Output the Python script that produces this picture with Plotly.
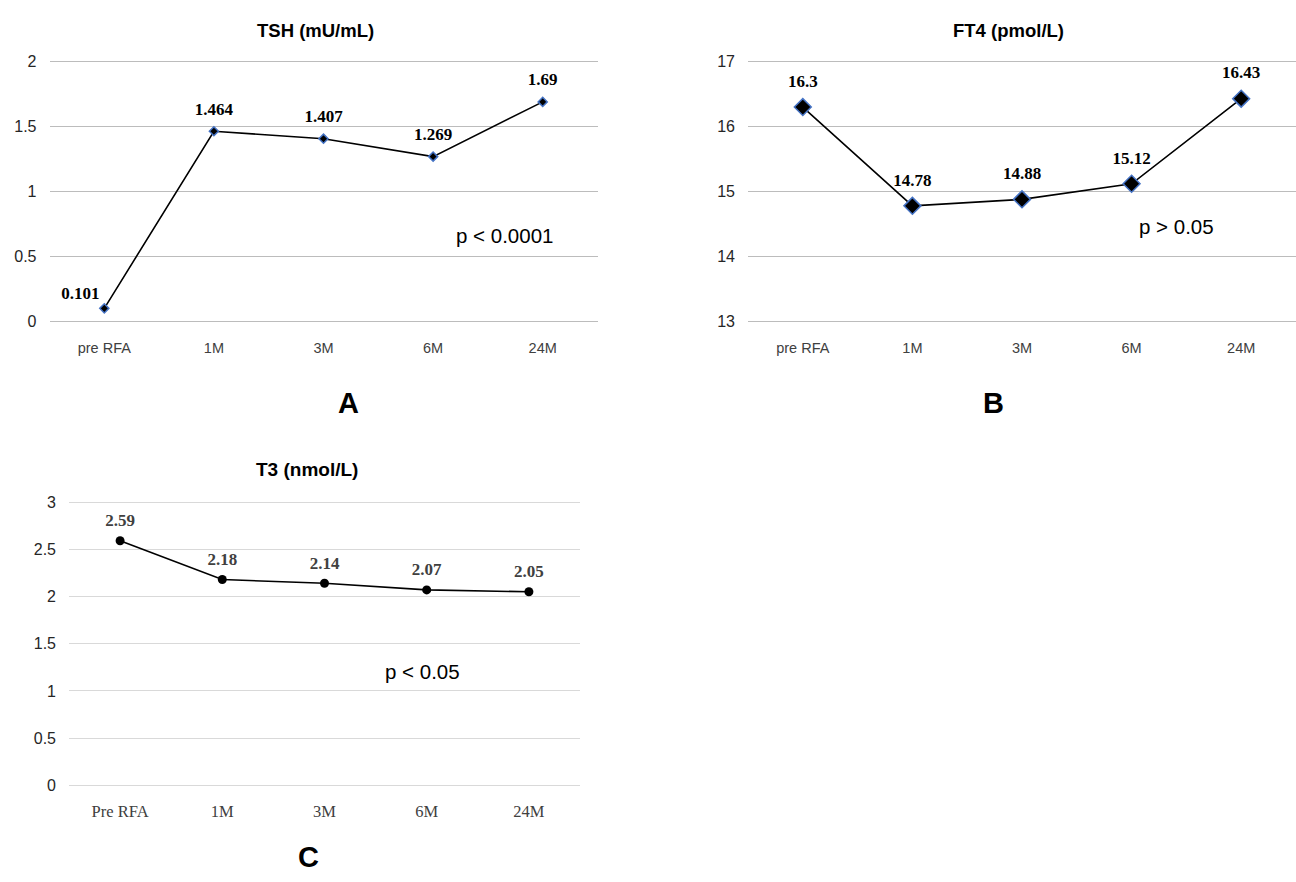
import plotly.graph_objects as go

cats_ab = ["pre RFA", "1M", "3M", "6M", "24M"]
cats_c = ["Pre RFA", "1M", "3M", "6M", "24M"]
tsh = [0.101, 1.464, 1.407, 1.269, 1.69]
ft4 = [16.3, 14.78, 14.88, 15.12, 16.43]
t3 = [2.59, 2.18, 2.14, 2.07, 2.05]
tsh_labels = ["0.101", "1.464", "1.407", "1.269", "1.69"]
ft4_labels = ["16.3", "14.78", "14.88", "15.12", "16.43"]
t3_labels = ["2.59", "2.18", "2.14", "2.07", "2.05"]

W, H = 1296, 882
def px(x0, x1):
    return [x0 / W, min(1.0, x1 / W)]
def py(y_bottom, y_top):
    return [1 - y_bottom / H, 1 - y_top / H]

fig = go.Figure()
serif = "Liberation Serif"
sans = "Liberation Sans"
CLEAR = "rgba(0,0,0,0)"

def series(xs, ys, labels, ax, ay, marker, label_color, label_pos, label_pad):
    fig.add_trace(go.Scatter(
        x=xs, y=ys, mode="lines+markers", line=dict(color="black", width=1.6),
        marker=marker, xaxis=ax, yaxis=ay, showlegend=False, hoverinfo="skip", cliponaxis=False))
    fig.add_trace(go.Scatter(
        x=xs, y=ys, mode="markers+text", text=labels, textposition=label_pos,
        textfont=dict(family=serif, size=17, color=label_color, weight="bold"),
        marker=dict(size=label_pad, color=CLEAR, line=dict(width=0)),
        xaxis=ax, yaxis=ay, showlegend=False, hoverinfo="skip", cliponaxis=False))

series(cats_ab, tsh, tsh_labels, "x", "y",
       dict(symbol="diamond", size=7, color="black", line=dict(color="#4472c4", width=1.5)),
       "black", ["top left", "top center", "top center", "top center", "top center"],
       [6, 18, 18, 18, 18])
series(cats_ab, ft4, ft4_labels, "x2", "y2",
       dict(symbol="diamond", size=13, color="black", line=dict(color="#4472c4", width=1.5)),
       "black", "top center", 24)
series(cats_c, t3, t3_labels, "x3", "y3",
       dict(symbol="circle", size=9, color="black"),
       "#404040", "top center", 15)

xcommon = dict(type="category", range=[-0.5, 4.5], showgrid=False, zeroline=False,
               showline=False, ticks="", fixedrange=True)
ycommon = dict(showgrid=True, gridwidth=1, zeroline=False, showline=False, ticks="",
               ticklabelstandoff=12,
               tickfont=dict(family=sans, size=16, color="#262626"), fixedrange=True)

def yr(a, b):
    e = (b - a) * 0.004
    return [a - e, b + e]

fig.update_layout(
    width=W, height=H, margin=dict(l=0, r=0, t=0, b=0),
    paper_bgcolor="white", plot_bgcolor="white",
    xaxis=dict(domain=px(49.5, 597.5), anchor="y", ticklabelstandoff=15,
               tickfont=dict(family=sans, size=14.5, color="#404040"), **xcommon),
    yaxis=dict(domain=py(321, 54.5), anchor="x", range=yr(0, 2), dtick=0.5, gridcolor="#bcbcbc", **ycommon),
    xaxis2=dict(domain=px(748, 1296), anchor="y2", ticklabelstandoff=15,
                tickfont=dict(family=sans, size=14.5, color="#404040"), **xcommon),
    yaxis2=dict(domain=py(321, 54.5), anchor="x2", range=yr(13, 17), dtick=1, gridcolor="#bcbcbc", **ycommon),
    xaxis3=dict(domain=px(69, 580), anchor="y3", ticklabelstandoff=13,
                tickfont=dict(family=serif, size=16.5, color="#404040"), **xcommon),
    yaxis3=dict(domain=py(793, 502.5), anchor="x3", range=yr(0, 3), dtick=0.5, gridcolor="#d9d9d9", **ycommon),
)

def ann(text, x, y, size, bold=False, family=sans, color="black"):
    fig.add_annotation(text=f"<b>{text}</b>" if bold else text, x=x / W, y=1 - y / H,
                       xref="paper", yref="paper", showarrow=False,
                       font=dict(family=family, size=size, color=color),
                       xanchor="center", yanchor="middle")

ann("TSH (mU/mL)", 315, 24, 18.5, bold=True)
ann("FT4 (pmol/L)", 1008, 24, 18.5, bold=True)
ann("T3 (nmol/L)", 307, 471, 19, bold=True)
ann("A", 349, 403, 29, bold=True)
ann("B", 993, 403, 29, bold=True)
ann("C", 308, 865, 29, bold=True)
ann("p < 0.0001", 504, 232, 20.5)
ann("p > 0.05", 1176, 223, 20.5)
ann("p < 0.05", 422, 676, 20.5)

fig.write_html(
    "out.html",
    config={"displayModeBar": False, "staticPlot": True},
    post_script="document.documentElement.style.margin='0';document.body.style.margin='0';"
                "document.documentElement.style.overflow='hidden';document.body.style.overflow='hidden';",
)
